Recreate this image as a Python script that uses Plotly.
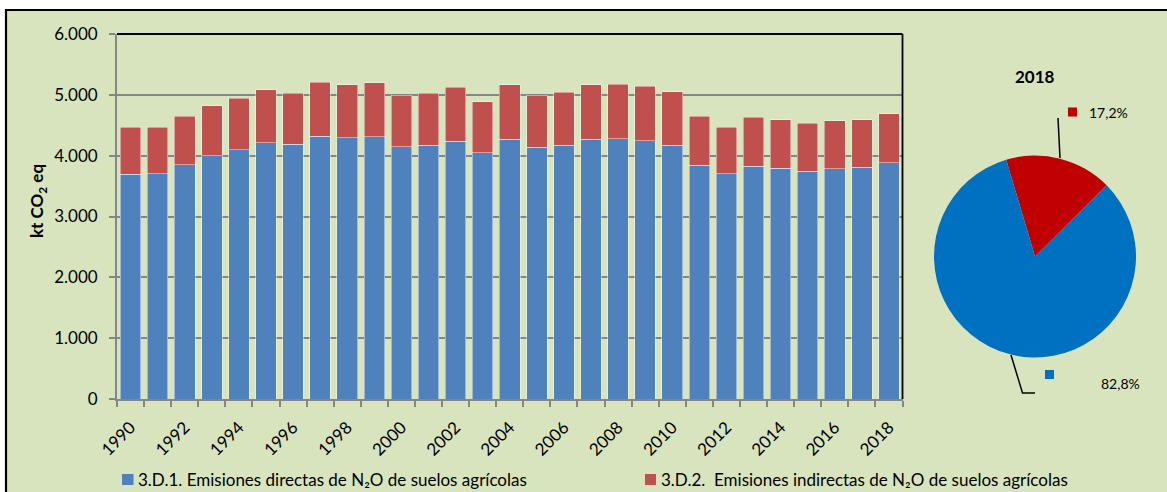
import plotly.graph_objects as go

W, H = 1167, 492

years = list(range(1990, 2019))
direct = [3694, 3699, 3852, 4000, 4099, 4214, 4186, 4318, 4291, 4307,
          4143, 4170, 4236, 4050, 4274, 4137, 4170, 4269, 4280, 4247,
          4170, 3841, 3699, 3830, 3797, 3748, 3786, 3808, 3885]
total = [4466, 4471, 4652, 4822, 4943, 5080, 5030, 5211, 5167, 5200,
         4992, 5030, 5124, 4888, 5167, 4997, 5041, 5162, 5178, 5140,
         5047, 4647, 4471, 4630, 4592, 4532, 4570, 4592, 4690]
indirect = [t - d for t, d in zip(total, direct)]

label_years = years[::2]
name_direct = "3.D.1. Emisiones directas de N\u2082O de suelos agrícolas"
name_indirect = "3.D.2.  Emisiones indirectas de N\u2082O de suelos agrícolas"
pie_year = "2018"

FONT = "Lato, 'Liberation Sans', sans-serif"
GREEN = "#D7E4BD"
GRAY = "#868686"
BAR_BLUE = "#4F81BD"
BAR_RED = "#C0504D"
PIE_BLUE = "#0070C0"
PIE_RED = "#C00000"


def px(x):
    return x / W


def py(y):
    return 1 - y / H


fig = go.Figure()
edge = dict(color="rgba(255,255,255,0.55)", width=0.8)
fig.add_trace(go.Bar(x=years, y=direct, name=name_direct,
                     marker=dict(color=BAR_BLUE, line=edge), showlegend=False))
fig.add_trace(go.Bar(x=years, y=indirect, name=name_indirect,
                     marker=dict(color=BAR_RED, line=edge), showlegend=False))

# pie of the last year
d_last, i_last = direct[-1], indirect[-1]
tot_last = d_last + i_last
fig.add_trace(go.Pie(values=[i_last, d_last], labels=[name_indirect, name_direct],
                     marker=dict(colors=[PIE_RED, PIE_BLUE], line=dict(width=0)),
                     sort=False, direction="clockwise", rotation=-16.6,
                     textinfo="none", hoverinfo="label+percent", showlegend=False,
                     domain=dict(x=[px(934), px(1136)], y=[py(357.5), py(155.5)])))


def pct(v):
    return f"{v / tot_last * 100:.1f}".replace(".", ",") + "%"


xdom = [px(117), px(902.5)]
ydom = [py(399), py(34)]

shapes = [
    # green frame
    dict(type="rect", xref="paper", yref="paper", x0=px(6), x1=1.01, y0=-0.02, y1=py(10),
         fillcolor=GREEN, line=dict(color="black", width=2.2), layer="below"),
    # plot area top and right border
    dict(type="line", xref="paper", yref="paper", x0=xdom[0], x1=xdom[1], y0=ydom[1], y1=ydom[1],
         line=dict(color="black", width=1.8)),
    dict(type="line", xref="paper", yref="paper", x0=xdom[1], x1=xdom[1], y0=ydom[0], y1=ydom[1],
         line=dict(color="black", width=1.8)),
    # legend squares
    dict(type="rect", xref="paper", yref="paper", x0=px(122), x1=px(133.5), y0=py(485), y1=py(474),
         fillcolor=BAR_BLUE, line=dict(width=0)),
    dict(type="rect", xref="paper", yref="paper", x0=px(645), x1=px(656), y0=py(485), y1=py(474),
         fillcolor=BAR_RED, line=dict(width=0)),
    # pie label squares
    dict(type="rect", xref="paper", yref="paper", x0=px(1068), x1=px(1077), y0=py(116.5), y1=py(107.5),
         fillcolor=PIE_RED, line=dict(width=0)),
    dict(type="rect", xref="paper", yref="paper", x0=px(1045), x1=px(1054), y0=py(379), y1=py(370),
         fillcolor=PIE_BLUE, line=dict(width=0)),
    # leader lines
    dict(type="path", xref="paper", yref="paper",
         path=f"M {px(1058)} {py(118)} L {px(1060)} {py(158)}",
         line=dict(color="black", width=1.5)),
    dict(type="path", xref="paper", yref="paper",
         path=f"M {px(1011)} {py(355)} L {px(1022.5)} {py(393)} L {px(1035)} {py(393)}",
         line=dict(color="black", width=1.5)),
]


def ann(text, x, y, size, xanchor="left", bold=False, angle=0):
    f = dict(family=FONT, size=size, color="black")
    if bold:
        f["weight"] = "bold"
    return dict(text=text, xref="paper", yref="paper", x=px(x), y=py(y),
                xanchor=xanchor, yanchor="middle", textangle=angle,
                showarrow=False, font=f)


annotations = [
    ann("kt CO<sub>2</sub> eq", 38, 201, 17, xanchor="center", bold=True, angle=-90),
    ann(f"<b>{pie_year}</b>", 1035, 76, 17, xanchor="center"),
    ann(pct(i_last), 1087, 112.5, 14),
    ann(pct(d_last), 1098.5, 383, 14),
    ann(name_direct, 136, 479.5, 17),
    ann(name_indirect, 658.5, 479.5, 17),
]

fig.update_layout(
    width=W, height=H, margin=dict(l=0, r=0, t=0, b=0, autoexpand=False),
    paper_bgcolor="white", plot_bgcolor="white",
    barmode="stack", bargap=0.24,
    separators=",.",
    font=dict(family=FONT, size=16, color="black"),
    shapes=shapes, annotations=annotations,
    xaxis=dict(domain=xdom, range=[1989.5, 2018.5], tickmode="array",
               tickvals=label_years, ticktext=[str(y) for y in label_years],
               tickangle=-45, ticks="", showgrid=False, zeroline=False, automargin=False,
               showline=True, linecolor=GRAY, linewidth=1.8, ticklabelstandoff=10,
               tickfont=dict(family=FONT, size=17, color="black"),
               minor=dict(tickmode="array", tickvals=[y - 0.5 for y in years] + [years[-1] + 0.5],
                          ticks="outside", ticklen=6, tickcolor=GRAY, tickwidth=1.5, showgrid=False)),
    yaxis=dict(domain=ydom, range=[0, 6000], dtick=1000, tickformat=",d",
               showgrid=True, gridcolor=GRAY, gridwidth=1.6, zeroline=False, automargin=False,
               showline=True, linecolor=GRAY, linewidth=1.8,
               ticks="outside", ticklen=6, tickcolor=GRAY, tickwidth=1.5,
               ticklabelstandoff=8,
               tickfont=dict(family=FONT, size=17, color="black")),
)

fig.write_html("out.html", config={"displayModeBar": False},
               post_script="document.body.style.margin='0';document.body.style.overflow='hidden';")
